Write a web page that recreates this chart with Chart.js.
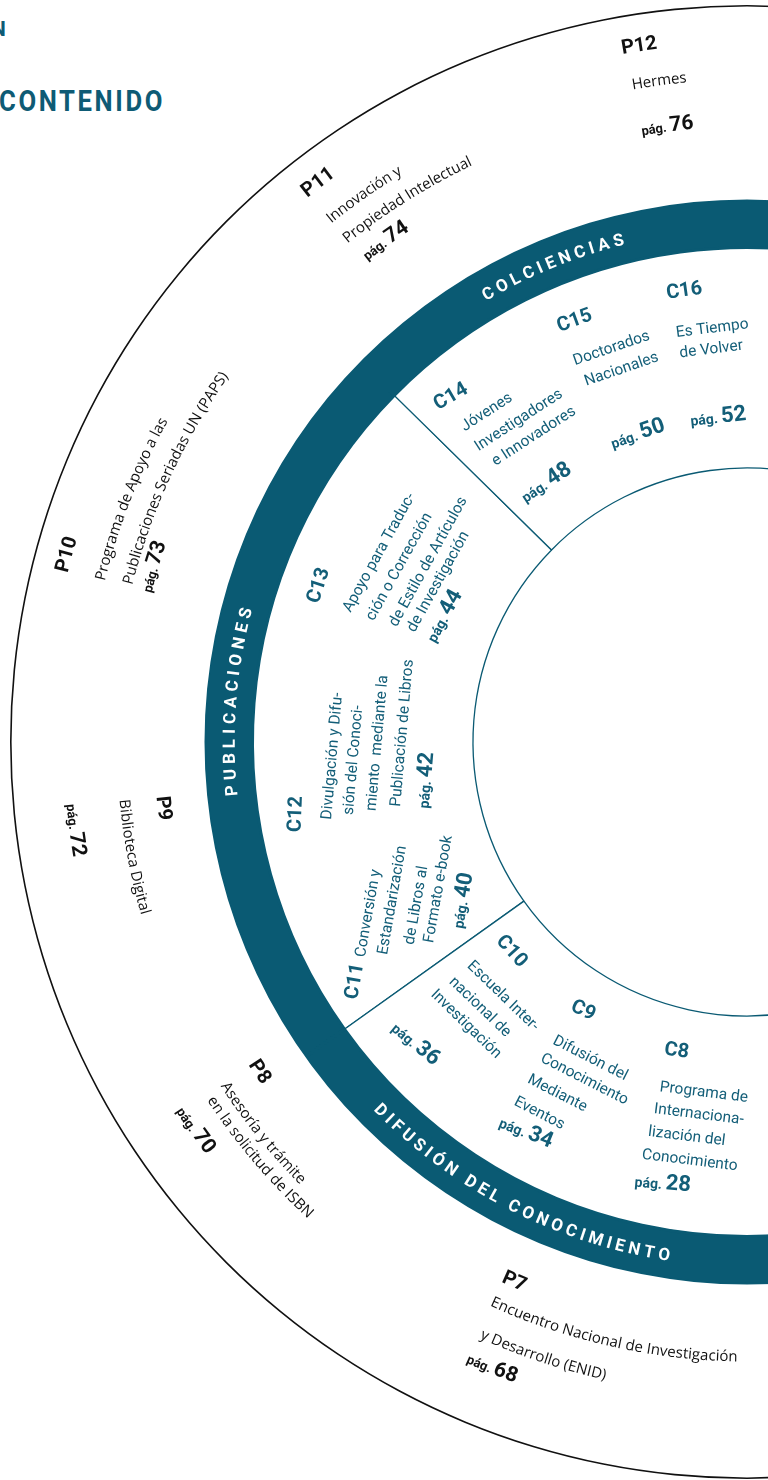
<!DOCTYPE html>
<html>
<head>
<meta charset="utf-8">
<script src="https://cdn.jsdelivr.net/npm/chart.js@4.4.1/dist/chart.umd.min.js"></script>
<style>
  html, body { margin: 0; padding: 0; background: #fff; overflow: hidden; width: 768px; height: 1480px; }
  #wrap { position: absolute; left: 0; top: 0; width: 1494px; height: 1484px; }
  .head { position: absolute; color: #0e5b75; font-family: Roboto, sans-serif; font-weight: 700; white-space: nowrap; }
  #t1 { left: -9px; top: 19px; font-size: 21px; line-height: 21px; }
  #t2 { left: -1px; top: 87px; font-size: 29.5px; line-height: 29.5px; letter-spacing: 3px; transform: scaleX(0.87); transform-origin: 0 0; }
</style>
</head>
<body>
<div class="head" id="t1">N</div>
<div class="head" id="t2">CONTENIDO</div>
<div id="wrap"><canvas id="wheel" width="1494" height="1484"></canvas></div>
<script>
// degrees of the wheel taken by each area (from 144.5° clockwise)
const areaNames = ['PUBLICACIONES', 'COLCIENCIAS', 'OTRAS', 'DIFUSIÓN DEL CONOCIMIENTO'];
const areaSpans = [80, 75.5, 120, 84.5];

const programCodes = ['P7', 'P8', 'P9', 'P10', 'P11', 'P12'];
const programNames = [
  ['Encuentro Nacional de Investigación', 'y Desarrollo (ENID)'],
  ['Asesoría y trámite', 'en la solicitud de ISBN'],
  ['Biblioteca Digital'],
  ['Programa de Apoyo a las', 'Publicaciones Seriadas UN (PAPS)'],
  ['Innovación y', 'Propiedad Intelectual'],
  ['Hermes']
];
const programPages = [68, 70, 72, 73, 74, 76];

const callCodes = ['C8', 'C9', 'C10', 'C11', 'C12', 'C13', 'C14', 'C15', 'C16'];
const callNames = [
  ['Programa de', 'Internaciona-', 'lización del', 'Conocimiento'],
  ['Difusión del', 'Conocimiento', 'Mediante', 'Eventos'],
  ['Escuela Inter-', 'nacional de', 'Investigación'],
  ['Conversión y', 'Estandarización', 'de Libros al', 'Formato e-book'],
  ['Divulgación y Difu-', 'sión del Conoci-', 'miento  mediante la', 'Publicación de Libros'],
  ['Apoyo para Traduc-', 'ción o Corrección', 'de Estilo de Artículos', 'de Investigación'],
  ['Jóvenes', 'Investigadores', 'e Innovadores'],
  ['Doctorados', 'Nacionales'],
  ['Es Tiempo', 'de Volver']
];
const callPages = [28, 34, 36, 40, 42, 44, 48, 50, 52];

// label placement (page coordinates)
const areaLayout = [
  { mid: -175.5, len: 190, flip: false },
  { mid: -112.2, len: 152, flip: false },
  null,
  { mid: 117, len: 334, flip: true }
];
const programLayout = [
  { flip: true,  code: [515, 1280], lines: [[612, 1341], [543, 1357]], page: [493, 1366] },
  { flip: true,  code: [261, 1071], lines: [[262, 1134], [258, 1159]], page: [197, 1129] },
  { flip: true,  code: [165, 808],  lines: [[133, 857]], page: [77, 830] },
  { flip: false, code: [65, 554],   lines: [[126, 497], [166, 474]], page: [151, 566] },
  { flip: false, code: [317, 181],  lines: [[363, 193], [405, 196]], page: [384, 239] },
  { flip: false, code: [639, 44],   lines: [[659, 80]], page: [667, 124] }
];
const callLayout = [
  { code: [677, 1049, 8],  rot: 7,   lines: [[704, 1091], [699, 1113], [687, 1135], [690, 1159]], page: [663, 1181, 5] },
  { code: [584, 1009, 25], rot: 27,  lines: [[591, 1057], [585, 1078], [558, 1092], [540, 1112]], page: [527, 1130, 22] },
  { code: [513, 950, 48],  rot: 44,  lines: [[504, 995], [481, 1006], [467, 1023]], page: [417, 1042, 40] },
  { code: [353, 981, -80], rot: -80, lines: [[367, 913], [391, 900], [415, 905], [437, 889]], page: [460, 900, -80] },
  { code: [294, 814, -88], rot: -85, lines: [[331, 756], [352, 760], [376, 743], [401, 733]], page: [423, 780, -85] },
  { code: [317, 585, -72], rot: -61, lines: [[378, 552], [398, 566], [427, 561], [437, 581]], page: [442, 615, -61] },
  { code: [450, 395, -30], rot: -33, lines: [[486, 411], [518, 419], [533, 435]], page: [545, 481, -33] },
  { code: [574, 319, -20], rot: -19, lines: [[611, 347], [621, 368]], page: [637, 432, -19] },
  { code: [684, 289, -8],  rot: -7,  lines: [[712, 327], [711, 348]], page: [718, 415, -6] }
];

const teal = '#0a5a73';
const tealText = '#135e78';
const ink = '#111111';

function runChars(ctx, runs) {
  const chars = [];
  let maxSize = 0;
  runs.forEach(([text, font, size]) => {
    ctx.font = font;
    for (const ch of text) chars.push({ ch, font, w: ctx.measureText(ch).width });
    maxSize = Math.max(maxSize, size);
  });
  return { chars, maxSize };
}

// text bent along the circle through (x, y)
function arcRuns(ctx, cx, cy, x, y, runs, flip, color, len) {
  const r = Math.hypot(x - cx, y - cy);
  const mid = Math.atan2(y - cy, x - cx);
  const { chars, maxSize } = runChars(ctx, runs);
  const natural = chars.reduce((s, c) => s + c.w, 0);
  const spacing = len ? (len - natural) / (chars.length - 1) : 0;
  const total = natural + spacing * (chars.length - 1);
  const dir = flip ? -1 : 1;
  const base = maxSize * 0.36;
  let acc = -total / 2;
  ctx.fillStyle = color;
  ctx.textAlign = 'center';
  ctx.textBaseline = 'alphabetic';
  chars.forEach(c => {
    const a = mid + dir * (acc + c.w / 2) / r;
    ctx.save();
    ctx.translate(cx + r * Math.cos(a), cy + r * Math.sin(a));
    ctx.rotate(a + dir * Math.PI / 2);
    ctx.font = c.font;
    ctx.fillText(c.ch, 0, base);
    ctx.restore();
    acc += c.w + spacing;
  });
}

// straight rotated text centred on (x, y)
function lineRuns(ctx, x, y, rotDeg, runs, color) {
  ctx.save();
  ctx.translate(x, y);
  ctx.rotate(rotDeg * Math.PI / 180);
  let total = 0, maxSize = 0;
  runs.forEach(([t, f, s]) => { ctx.font = f; total += ctx.measureText(t).width; maxSize = Math.max(maxSize, s); });
  ctx.fillStyle = color;
  ctx.textAlign = 'left';
  ctx.textBaseline = 'alphabetic';
  let px = -total / 2;
  runs.forEach(([t, f]) => { ctx.font = f; ctx.fillText(t, px, maxSize * 0.36); px += ctx.measureText(t).width; });
  ctx.restore();
}

const labelsPlugin = {
  id: 'wheelLabels',
  afterDatasetsDraw(chart) {
    const ctx = chart.ctx;
    const arc = chart.getDatasetMeta(0).data[0];
    const cx = arc.x, cy = arc.y;
    const deg = Math.PI / 180;

    // area names on the dark band
    const band = chart.getDatasetMeta(2).data[0];
    const rb = (band.innerRadius + band.outerRadius) / 2;
    areaNames.forEach((name, i) => {
      const L = areaLayout[i];
      if (!L) return;
      arcRuns(ctx, cx, cy, cx + rb * Math.cos(L.mid * deg), cy + rb * Math.sin(L.mid * deg),
        [[name, 'bold 17px Roboto', 17]], L.flip, '#ffffff', L.len);
    });

    // outer ring: programmes
    programCodes.forEach((code, i) => {
      const L = programLayout[i];
      arcRuns(ctx, cx, cy, L.code[0], L.code[1], [[code, 'bold 20px Roboto', 20]], L.flip, ink);
      programNames[i].forEach((t, j) => {
        arcRuns(ctx, cx, cy, L.lines[j][0], L.lines[j][1], [[t, '15px "Open Sans"', 15]], L.flip, ink);
      });
      arcRuns(ctx, cx, cy, L.page[0], L.page[1],
        [['pág.', 'bold 13px Roboto', 13], [' ', 'bold 13px Roboto', 13], [String(programPages[i]), 'bold 21px Roboto', 21]],
        L.flip, ink);
    });

    // middle ring: calls
    callCodes.forEach((code, i) => {
      const L = callLayout[i];
      lineRuns(ctx, L.code[0], L.code[1], L.code[2], [[code, 'bold 20px Roboto', 20]], tealText);
      callNames[i].forEach((t, j) => {
        lineRuns(ctx, L.lines[j][0], L.lines[j][1], L.rot, [[t, '15.5px Roboto', 15.5]], tealText);
      });
      lineRuns(ctx, L.page[0], L.page[1], L.page[2],
        [['pág.', 'bold 14px Roboto', 14], [' ', 'bold 14px Roboto', 14], [String(callPages[i]), 'bold 22px Roboto', 22]],
        tealText);
    });
  }
};

new Chart(document.getElementById('wheel'), {
  type: 'doughnut',
  data: {
    labels: areaNames,
    datasets: [
      { label: 'contorno', data: [360], backgroundColor: ink, borderWidth: 0, weight: 1.6, rotation: 90 },
      { label: 'programas', data: [360], backgroundColor: '#ffffff', borderWidth: 0, weight: 192.9, rotation: 90 },
      { label: 'áreas', data: areaSpans, backgroundColor: teal, borderColor: teal, borderWidth: 3, weight: 48, rotation: 234.5 },
      { label: 'convocatorias', data: areaSpans, backgroundColor: '#ffffff', borderColor: teal, borderWidth: 1.3, weight: 220.5, rotation: 234.5 }
    ]
  },
  options: {
    responsive: false,
    animation: false,
    events: [],
    radius: 737,
    cutout: '37.18%',
    layout: { padding: 0 },
    plugins: { legend: { display: false }, tooltip: { enabled: false } }
  },
  plugins: [labelsPlugin]
});
</script>
</body>
</html>
